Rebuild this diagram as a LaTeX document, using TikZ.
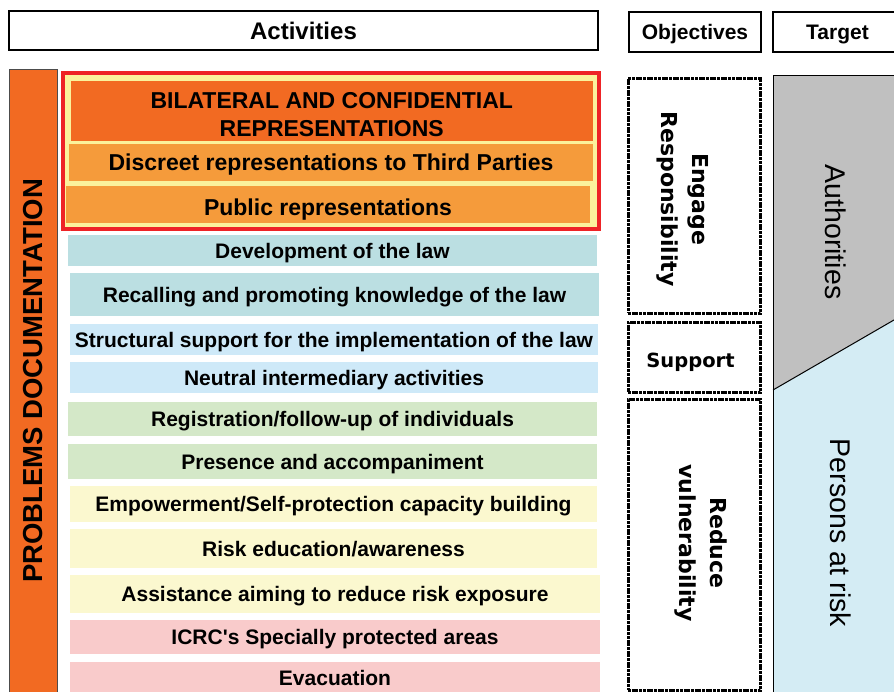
\documentclass[tikz,border=0pt]{standalone}
\usepackage{fontspec}
\setmainfont{Liberation Sans}
\newfontfamily\objfont{DejaVu Sans}
\usepackage{xcolor}
\usepackage{tikz}
\usetikzlibrary{positioning,calc}

\definecolor{deeporange}{HTML}{F26A22}
\definecolor{lightorange}{HTML}{F59B3B}
\definecolor{paleyellow}{HTML}{FBF29C}
\definecolor{framered}{HTML}{EE2326}
\definecolor{lawteal}{HTML}{BBDFE2}
\definecolor{skyblue}{HTML}{CEE9F8}
\definecolor{sagegreen}{HTML}{D4E8C8}
\definecolor{creamyellow}{HTML}{FBF8CF}
\definecolor{softpink}{HTML}{F9CBCB}
\definecolor{authgray}{HTML}{C0C0C0}
\definecolor{riskblue}{HTML}{D4ECF4}

\begin{document}
\begin{tikzpicture}[
  x=1pt, y=-1pt,
  head/.style={rectangle, draw, line width=1.1pt, inner sep=0pt, text height=15pt, text depth=0pt, font=\fontsize{21}{25}\selectfont\bfseries},
  act/.style={rectangle, inner sep=0pt, align=center, text height=15pt, text depth=0pt, font=\fontsize{21}{25}\selectfont\bfseries},
  rep/.style={rectangle, inner sep=0pt, align=center, font=\fontsize{23}{28}\selectfont\bfseries},
  objbox/.style={rectangle, draw, line width=3pt, dash pattern=on 3pt off 0.7pt, inner sep=0pt, minimum width=132pt},
  objtext/.style={inner sep=0pt, align=center, font=\objfont\fontsize{22}{26.4}\selectfont\bfseries},
  tgttext/.style={inner sep=0pt, rotate=-90, font=\fontsize{28.5}{34}\selectfont}
]
\useasboundingbox (0,0) rectangle (894,691);
\clip (0,0) rectangle (894,691);

\node[head, minimum width=589pt, minimum height=39pt, text height=17.2pt, font=\fontsize{24}{28}\selectfont\bfseries] (activities) at (303.5,30.5) {Activities};
\node[head, minimum width=132pt, minimum height=40pt] (objectives) at (695,32) {Objectives};
\node[head, minimum width=129pt, minimum height=40pt] (target) at (837.5,32) {Target};

\node[act, draw=black!70, line width=1pt, fill=deeporange, rotate=90, minimum width=624pt, minimum height=48pt, text height=19.7pt, font=\fontsize{27.5}{32}\selectfont\bfseries] (probdoc) at (33,381) {PROBLEMS DOCUMENTATION};

\node[rectangle, draw=framered, line width=4pt, fill=paleyellow, minimum width=536pt, minimum height=156pt] (repframe) at (331,151) {};
\node[rep, fill=deeporange, minimum width=522.5pt, minimum height=60.5pt, text height=52pt, text depth=0pt] (bilateral) at (331.75,110.75) {BILATERAL AND CONFIDENTIAL\\REPRESENTATIONS};
\node[rep, fill=lightorange, minimum width=524pt, minimum height=37pt, text height=16.5pt, text depth=0pt] (discreet) at (331,162.5) {Discreet representations to Third Parties};
\node[rep, fill=lightorange, minimum width=524pt, minimum height=37pt, text height=22pt, text depth=0pt] (public) at (328,204.5) {Public representations};

\node[act, fill=lawteal, minimum width=529pt, minimum height=31pt] (devlaw) at (332.5,250.5) {Development of the law};
\node[act, fill=lawteal, minimum width=529pt, minimum height=43pt] (recall) at (334.5,294.5) {Recalling and promoting knowledge of the law};
\node[act, fill=skyblue, minimum width=528pt, minimum height=31pt] (structural) at (334,339.5) {Structural support for the implementation of the law};
\node[act, fill=skyblue, minimum width=528pt, minimum height=31pt] (neutral) at (334,377.5) {Neutral intermediary activities};
\node[act, fill=sagegreen, minimum width=529pt, minimum height=34pt] (registration) at (332.5,419) {Registration/follow-up of individuals};
\node[act, fill=sagegreen, minimum width=529pt, minimum height=35pt] (presence) at (332.5,461.5) {Presence and accompaniment};
\node[act, fill=creamyellow, minimum width=527pt, minimum height=36pt] (empower) at (333.5,504) {Empowerment/Self-protection capacity building};
\node[act, fill=creamyellow, minimum width=527pt, minimum height=39pt] (riskedu) at (333.5,548.5) {Risk education/awareness};
\node[act, fill=creamyellow, minimum width=530pt, minimum height=38pt] (assist) at (335,594) {Assistance aiming to reduce risk exposure};
\node[act, fill=softpink, minimum width=530pt, minimum height=34pt] (icrc) at (335,637) {ICRC\textquotesingle s Specially protected areas};
\node[act, fill=softpink, minimum width=530pt, minimum height=32pt] (evac) at (335,678) {Evacuation};

\node[objbox, minimum height=235pt] (engage) at (694,195.5) {};
\node[objbox, minimum height=70pt] (support) at (694,357) {};
\node[objbox, minimum height=291pt] (reduce) at (694,544.5) {};
\node[objtext, rotate=-90] (engageTxt) at (682.5,199) {Engage\\[4.5pt]Responsibility};
\node[objtext, font=\objfont\fontsize{19.5}{23}\selectfont\bfseries] (supportTxt) at (690.5,362) {Support};
\node[objtext, rotate=-90] (reduceTxt) at (701,543) {Reduce\\[4.5pt]vulnerability};

\coordinate (tgtTL) at (773,75);
\coordinate (tgtTR) at (900,75);
\coordinate (diagL) at (773,390);
\coordinate (diagR) at (900,316.5);
\coordinate (tgtBL) at (773,700);
\coordinate (tgtBR) at (900,700);
\fill[authgray] (tgtTL) -- (tgtTR) -- (diagR) -- (diagL) -- cycle;
\fill[riskblue] (diagL) -- (diagR) -- (tgtBR) -- (tgtBL) -- cycle;
\draw[line width=1pt] (tgtBL) -- (tgtTL) -- (tgtTR);
\draw[line width=1pt] (diagL) -- (diagR);
\node[tgttext] (authTxt) at (836,232) {Authorities};
\node[tgttext] (personsTxt) at (841,533) {Persons at risk};
\end{tikzpicture}
\end{document}
